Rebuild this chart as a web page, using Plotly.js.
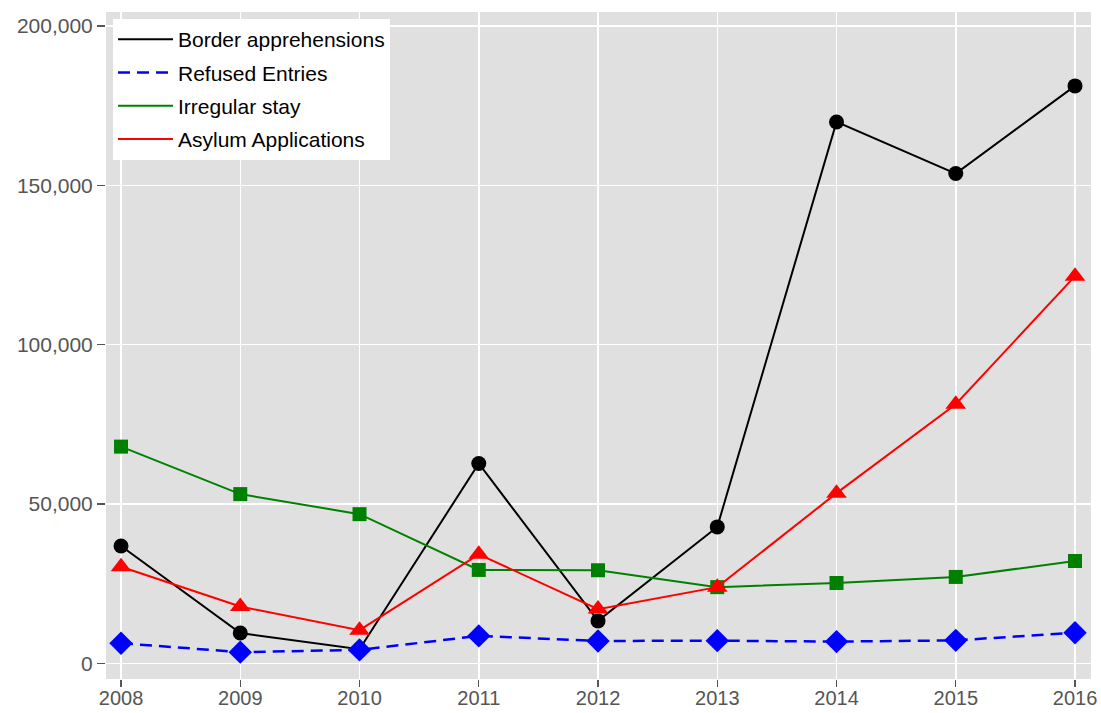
<!DOCTYPE html>
<html>
<head>
<meta charset="utf-8">
<script src="https://cdn.plot.ly/plotly-3.0.1.min.js"></script>
<style>html,body{margin:0;padding:0;background:#fff;}#chart{width:1101px;height:713px;}</style>
</head>
<body>
<div id="chart"></div>
<script>
const years = [2008, 2009, 2010, 2011, 2012, 2013, 2014, 2015, 2016];
const borderApprehensions = [36800, 9500, 4400, 62700, 13300, 42800, 169900, 153700, 181200];
const refusedEntries = [6300, 3500, 4200, 8600, 7000, 7100, 6800, 7200, 9600];
const irregularStay = [68000, 53100, 46800, 29300, 29200, 23900, 25200, 27100, 32100];
const asylumApplications = [30300, 17800, 10400, 34200, 17000, 23900, 53400, 81300, 121500];
const seriesNames = ["Border apprehensions", "Refused Entries", "Irregular stay", "Asylum Applications"];
const yTickVals = [0, 50000, 100000, 150000, 200000];
const yTickText = ["0", "50,000", "100,000", "150,000", "200,000"];

const specs = [
  {name: seriesNames[0], y: borderApprehensions, color: "#000000", dash: "solid", symbol: "circle", size: 15, width: 2},
  {name: seriesNames[1], y: refusedEntries, color: "#0000ff", dash: "12px,7px", symbol: "diamond", size: 18, width: 2.5},
  {name: seriesNames[2], y: irregularStay, color: "#008000", dash: "solid", symbol: "square", size: 14, width: 2},
  {name: seriesNames[3], y: asylumApplications, color: "#ff0000", dash: "solid", symbol: "triangle-up", size: 18, width: 2}
];

const traces = [];
specs.forEach((s, i) => {
  traces.push({
    x: years, y: s.y, type: "scatter", mode: "lines+markers", name: s.name,
    showlegend: false,
    line: {color: s.color, width: s.width, dash: s.dash},
    marker: {color: s.color, symbol: s.symbol, size: s.size, line: {width: 0}},
    hoverinfo: "x+y+name"
  });
});
specs.forEach((s, i) => {
  traces.push({
    x: [null], y: [null], type: "scatter", mode: "lines", name: s.name,
    legendgroup: "g" + i, showlegend: true,
    line: {color: s.color, width: s.width, dash: s.dash}
  });
});

const layout = {
  width: 1101, height: 713,
  margin: {l: 106, r: 10, t: 12, b: 34, pad: 0},
  paper_bgcolor: "#ffffff",
  plot_bgcolor: "#e0e0e0",
  font: {family: "Liberation Sans, Arial, sans-serif", size: 21, color: "#555555"},
  xaxis: {
    range: [2007.874, 2016.134],
    tickvals: years,
    ticktext: years.map(String),
    showgrid: true, gridcolor: "#ffffff", gridwidth: 1.5,
    zeroline: false, showline: false,
    ticks: "outside", ticklen: 7, tickwidth: 1.2, tickcolor: "#555555",
    ticklabelstandoff: -6,
    tickfont: {size: 20, color: "#555555"}
  },
  yaxis: {
    range: [-4930, 204400],
    tickvals: yTickVals,
    ticktext: yTickText,
    showgrid: true, gridcolor: "#ffffff", gridwidth: 1.5,
    zeroline: false, showline: false,
    ticks: "outside", ticklen: 8, tickwidth: 1.2, tickcolor: "#555555",
    tickfont: {size: 21, color: "#555555"}
  },
  showlegend: true,
  legend: {
    x: 0.0071, y: 0.9895, xanchor: "left", yanchor: "top",
    bgcolor: "#ffffff", borderwidth: 0,
    font: {size: 21, color: "#000000"},
    traceorder: "grouped", tracegroupgap: 3,
    itemwidth: 55
  }
};

Plotly.newPlot("chart", traces, layout, {displayModeBar: false, staticPlot: true});
</script>
</body>
</html>
